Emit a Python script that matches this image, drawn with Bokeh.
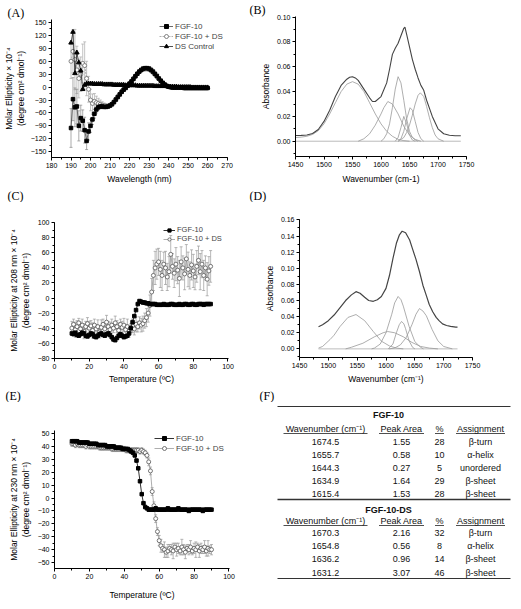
from bokeh.plotting import figure
from bokeh.layouts import row, column
from bokeh.models import (Range1d, SingleIntervalTicker, NumeralTickFormatter, Title,
                          Legend, LegendItem, Whisker, TeeHead, ColumnDataSource)
from bokeh.core.properties import value
from bokeh.embed import file_html
from bokeh.resources import INLINE

FONT = "Liberation Sans"
SERIF = "Liberation Serif"

# ---------------- Panel A: far-UV CD spectra ----------------
WAVELENGTH = list(range(190, 261))
CD_FGF10 = [-95, -28, -47, -45, -90, -72, -78, -100, -125, -103,
            -90, -75, -62, -52, -47, -45, -45, -46, -46, -45,
            -43, -40, -35, -29, -23, -17, -11, -6, -2, 3,
            8, 13, 19, 25, 31, 36, 40, 43, 44, 44,
            43, 40, 36, 31, 26, 20, 15, 10, 6, 3,
            1, 0, -1, -1, -1, -1, -1, -1, -2, -2,
            -2, -2, -2, -2, -2, -2, -2, -2, -2, -2, -2]
CD_FGF10_DS = [60, 83, 64, 40, 20, 30, 55, 50, 20, -5,
               -30, -38, -33, -36, -38, -40, -42, -43, -44, -44,
               -42, -39, -34, -28, -22, -16, -10, -5, -1, 4,
               9, 14, 20, 26, 31, 36, 39, 41, 42, 42,
               41, 38, 34, 29, 24, 19, 14, 9, 5, 2,
               1, 0, -1, -1, -1, -1, -1, -1, -2, -2,
               -2, -2, -2, -2, -2, -2, -2, -2, -2, -2, -2]
CD_DS_CTRL = [103, 128, 32, 80, 57, 38, -5, 5, 8, 8,
              8, 8, 7, 7, 7, 7, 7, 6, 6, 6,
              6, 6, 5, 5, 5, 5, 5, 5, 4, 4,
              4, 4, 4, 4, 3, 3, 3, 3, 3, 3,
              3, 3, 3, 2, 2, 2, 2, 2, 2, 2,
              1, 1, 1, 1, 1, 0, 0, 0, 0, 0,
              0, 0, -1, -1, -1, -1, -1, -1, -1, -1, -1]
ERR_FGF10_A = [45, 50, 45, 40, 35, 30, 25, 30, 20, 20,
               15, 12, 10, 8, 6, 5, 4, 3, 3, 3,
               3, 3, 2, 2, 2, 2, 2, 2, 2, 2,
               2, 2, 2, 2, 2, 2, 2, 2, 2, 2,
               2, 2, 2, 2, 2, 2, 2, 2, 2, 2,
               0, 0, 0, 0, 0, 0, 0, 0, 0, 0,
               0, 0, 0, 0, 0, 0, 0, 0, 0, 0, 0]
ERR_DS_A = [40, 50, 70, 55, 45, 40, 45, 55, 40, 30,
            25, 22, 18, 15, 12, 10, 8, 6, 5, 4,
            3, 3, 3, 2, 2, 2, 2, 2, 2, 2,
            2, 2, 2, 2, 2, 2, 2, 2, 2, 2,
            2, 2, 2, 2, 2, 2, 2, 2, 2, 2,
            0, 0, 0, 0, 0, 0, 0, 0, 0, 0,
            0, 0, 0, 0, 0, 0, 0, 0, 0, 0, 0]

# ---------------- Panel B: FTIR FGF-10 ----------------
B_WN = [1450, 1460, 1470, 1480, 1490, 1500, 1510, 1520, 1530, 1540, 1545, 1550, 1555, 1560,
        1570, 1580, 1585, 1590, 1600, 1610, 1615, 1620, 1625, 1630, 1635, 1640, 1642, 1645,
        1650, 1655, 1660, 1665, 1670, 1675, 1680, 1690, 1700, 1710, 1720, 1730, 1740]
B_ABS = [0.0046, 0.0047, 0.0050, 0.0062, 0.0095, 0.016, 0.025, 0.036, 0.045, 0.050, 0.0515,
         0.052, 0.051, 0.049, 0.042, 0.035, 0.032, 0.032, 0.036, 0.047, 0.058, 0.070, 0.075,
         0.079, 0.085, 0.091, 0.092, 0.086, 0.076, 0.066, 0.058, 0.051, 0.045, 0.041, 0.033,
         0.020, 0.010, 0.0060, 0.0048, 0.0044, 0.0044]
B_BANDS = [
    ([1450, 1460, 1470, 1480, 1490, 1500, 1510, 1520, 1530, 1540, 1550, 1560, 1570, 1580,
      1590, 1600, 1610, 1620, 1630, 1640, 1650],
     [0.0030, 0.0033, 0.0040, 0.0055, 0.0085, 0.014, 0.022, 0.031, 0.040, 0.046, 0.048,
      0.046, 0.040, 0.031, 0.022, 0.014, 0.008, 0.004, 0.0015, 0.0005, 0.0]),
    ([1560, 1570, 1580, 1590, 1600, 1605, 1612, 1620, 1630, 1640, 1650, 1660, 1670],
     [0.000, 0.002, 0.006, 0.013, 0.022, 0.027, 0.032, 0.030, 0.022, 0.012, 0.005, 0.0015, 0.0]),
    ([1600, 1605, 1610, 1615, 1620, 1625, 1630, 1635, 1640, 1645, 1650, 1655, 1660, 1665],
     [0.000, 0.002, 0.006, 0.014, 0.027, 0.042, 0.052, 0.047, 0.033, 0.018, 0.008, 0.003, 0.001, 0.0]),
    ([1625, 1630, 1635, 1640, 1645, 1650, 1655, 1660],
     [0.000, 0.003, 0.011, 0.020, 0.014, 0.005, 0.001, 0.0]),
    ([1630, 1635, 1640, 1645, 1651, 1655, 1660, 1665, 1670, 1675],
     [0.000, 0.002, 0.008, 0.018, 0.027, 0.025, 0.016, 0.007, 0.002, 0.0]),
    ([1630, 1640, 1645, 1650, 1655, 1660, 1665, 1669, 1675, 1680, 1685, 1690, 1695, 1700, 1710],
     [0.000, 0.003, 0.007, 0.013, 0.021, 0.030, 0.037, 0.039, 0.036, 0.028, 0.019, 0.011, 0.005,
      0.002, 0.0]),
]
B_BASE_WN = [1450, 1740]
B_BASE = [0.0, 0.0]

# ---------------- Panel C: thermal melt at 208 nm ----------------
TEMP = list(range(10, 91))
C_FGF10 = [-47, -48, -46, -49, -50, -48, -46, -47, -50, -51,
           -49, -47, -48, -51, -52, -50, -48, -47, -49, -50,
           -48, -47, -49, -52, -55, -56, -53, -50, -48, -50,
           -52, -51, -50, -47, -40, -32, -24, -16, -8, -4,
           -5, -6, -6, -7, -7, -8, -8, -8, -8, -9,
           -9, -9, -9, -8, -9, -9, -9, -8, -8, -9,
           -9, -9, -8, -9, -9, -8, -8, -9, -9, -8,
           -8, -9, -9, -8, -8, -8, -9, -8, -8, -8, -8]
C_FGF10_DS = [-40, -35, -42, -38, -33, -41, -36, -44, -38, -34,
              -40, -37, -43, -36, -41, -38, -45, -39, -35, -41,
              -32, -38, -42, -36, -40, -33, -38, -43, -35, -39,
              -36, -42, -38, -44, -40, -37, -41, -35, -38, -33,
              -36, -34, -30, -26, -20, -10, 8, 30, 40, 45,
              48, 38, 30, 45, 40, 28, 35, 58, 42, 33,
              45, 37, 26, 48, 40, 32, 52, 38, 30, 44,
              36, 28, 42, 50, 35, 45, 30, 40, 25, 36, 42]
C_ERR_DS = [9, 7, 10, 8, 6, 9, 8, 10, 7, 8,
            9, 7, 10, 8, 6, 9, 8, 10, 7, 8,
            9, 7, 10, 8, 6, 9, 8, 10, 7, 8,
            9, 7, 10, 8, 6, 9, 8, 10, 7, 8,
            9, 10, 10, 12, 12, 14, 18, 20, 22, 20,
            18, 24, 20, 16, 22, 18, 20, 25, 17, 19,
            22, 18, 24, 20, 16, 21, 19, 23, 18, 20,
            22, 17, 21, 19, 24, 18, 20, 16, 22, 19, 21]

# ---------------- Panel D: FTIR FGF-10 + DS ----------------
D_WN = [1483, 1490, 1500, 1510, 1520, 1530, 1540, 1548, 1555, 1563, 1570, 1578, 1585, 1592,
        1600, 1606, 1612, 1618, 1623, 1628, 1634, 1641, 1646, 1652, 1658, 1664, 1670, 1675,
        1681, 1687, 1692, 1698, 1705, 1712, 1721, 1724]
D_ABS = [0.0275, 0.030, 0.035, 0.042, 0.051, 0.060, 0.067, 0.071, 0.069, 0.064, 0.060, 0.059,
         0.061, 0.065, 0.075, 0.091, 0.112, 0.131, 0.141, 0.146, 0.144, 0.135, 0.124, 0.111,
         0.096, 0.079, 0.066, 0.055, 0.046, 0.039, 0.035, 0.031, 0.029, 0.028, 0.027, 0.027]
D_BANDS = [
    ([1483, 1490, 1503, 1510, 1520, 1534, 1548, 1563, 1578, 1592, 1606, 1618, 1630],
     [0.001, 0.003, 0.0116, 0.017, 0.0275, 0.039, 0.0426, 0.035, 0.0215, 0.0096, 0.0036, 0.001, 0.0]),
    ([1530, 1540, 1560, 1580, 1595, 1603, 1615, 1630, 1645, 1660, 1675, 1690],
     [0.000, 0.002, 0.007, 0.015, 0.020, 0.0215, 0.020, 0.015, 0.008, 0.003, 0.001, 0.0]),
    ([1575, 1580, 1590, 1600, 1610, 1615, 1621, 1626, 1630, 1640, 1650, 1660, 1665],
     [0.000, 0.001, 0.006, 0.020, 0.043, 0.057, 0.065, 0.061, 0.053, 0.028, 0.009, 0.002, 0.0]),
    ([1604, 1612, 1618, 1623, 1627, 1631, 1634, 1640, 1646, 1650],
     [0.000, 0.006, 0.020, 0.030, 0.034, 0.031, 0.025, 0.010, 0.002, 0.0]),
    ([1605, 1615, 1625, 1635, 1645, 1652, 1658, 1664, 1670, 1680, 1690, 1700, 1715],
     [0.000, 0.001, 0.005, 0.014, 0.030, 0.043, 0.050, 0.047, 0.041, 0.024, 0.010, 0.003, 0.0]),
]
D_BASE_WN = [1483, 1724]
D_BASE = [0.0, 0.0]

# ---------------- Panel E: thermal melt at 230 nm ----------------
E_FGF10 = [44, 44, 44, 44, 43, 43, 43, 43, 43, 43,
           42, 42, 42, 42, 42, 41, 41, 41, 41, 41,
           40, 40, 40, 40, 40, 39, 39, 39, 39, 38,
           38, 38, 38, 37, 36, 35, 33, 29, 23, 13,
           3, -4, -7, -8, -9, -9, -9, -9, -8, -9,
           -9, -9, -9, -9, -9, -8, -9, -9, -9, -9,
           -9, -8, -9, -9, -9, -9, -9, -10, -9, -9,
           -9, -9, -9, -9, -9, -10, -9, -9, -9, -9, -9]
E_FGF10_DS = [42, 42, 41, 42, 41, 41, 41, 41, 40, 41,
              40, 40, 40, 40, 40, 40, 39, 39, 39, 39,
              39, 39, 39, 38, 38, 38, 38, 38, 38, 38,
              38, 37, 37, 37, 37, 37, 37, 37, 37, 36,
              37, 36, 35, 33, 28, 21, 5, -6, -16, -26,
              -33, -37, -39, -40, -42, -41, -39, -40, -41, -38,
              -40, -39, -41, -38, -40, -42, -39, -40, -38, -41,
              -39, -40, -38, -41, -39, -40, -38, -41, -39, -40, -40]
E_ERR_DS = [2, 2, 2, 2, 2, 2, 2, 2, 2, 2,
            2, 2, 2, 2, 2, 2, 2, 2, 2, 2,
            2, 2, 2, 2, 2, 2, 2, 2, 2, 2,
            2, 2, 2, 2, 2, 2, 2, 2, 2, 2,
            2, 2, 2, 2, 3, 3, 3, 3, 3, 3,
            4, 5, 3, 6, 4, 5, 3, 4, 6, 3,
            5, 4, 3, 6, 4, 5, 3, 4, 5, 3,
            4, 6, 3, 5, 4, 3, 5, 4, 6, 3, 4]

# ---------------- Panel F: table ----------------
TABLE_HEADERS = ["Wavenumber (cm\u207b\u00b9)", "Peak Area", "%", "Assignment"]
T1_TITLE = "FGF-10"
T1_WN = ["1674.5", "1655.7", "1644.3", "1634.9", "1615.4"]
T1_AREA = ["1.55", "0.58", "0.27", "1.64", "1.53"]
T1_PCT = ["28", "10", "5", "29", "28"]
T1_ASSIGN = ["\u03b2-turn", "\u03b1-helix", "unordered", "\u03b2-sheet", "\u03b2-sheet"]
T2_TITLE = "FGF-10-DS"
T2_WN = ["1670.3", "1654.8", "1636.2", "1631.2"]
T2_AREA = ["2.16", "0.56", "0.96", "3.07"]
T2_PCT = ["32", "8", "14", "46"]
T2_ASSIGN = ["\u03b2-turn", "\u03b1-helix", "\u03b2-sheet", "\u03b2-sheet"]


def base_fig(w, h, xr, yr, borders, xint, yint, yfmt=None):
    l, r, t, b = borders
    p = figure(width=w, height=h, x_range=Range1d(*xr), y_range=Range1d(*yr),
               output_backend="svg", toolbar_location=None, frame_align=False,
               min_border_left=l, min_border_right=r, min_border_top=t, min_border_bottom=b)
    p.grid.visible = False
    p.outline_line_color = None
    p.xaxis.ticker = SingleIntervalTicker(interval=xint, num_minor_ticks=2)
    p.yaxis.ticker = SingleIntervalTicker(interval=yint, num_minor_ticks=2)
    if yfmt:
        p.yaxis.formatter = NumeralTickFormatter(format=yfmt)
    for ax in p.axis:
        ax.axis_line_color = "black"
        ax.major_tick_line_color = "black"
        ax.minor_tick_line_color = "black"
        ax.major_tick_out = 3
        ax.major_tick_in = 0
        ax.minor_tick_out = 2
        ax.minor_tick_in = 0
        ax.major_label_text_font = FONT
        ax.major_label_text_font_size = "7px"
        ax.major_label_text_color = "black"
        ax.major_label_standoff = 2
        ax.axis_label_text_font = FONT
        ax.axis_label_text_font_size = "8.5px"
        ax.axis_label_text_font_style = "normal"
        ax.axis_label_text_color = "black"
    return p


def top_title(p, txt, offset):
    p.title.text = txt
    p.title.align = "left"
    p.title.offset = offset
    p.title.standoff = 0
    p.title.text_font = SERIF
    p.title.text_font_size = "12px"
    p.title.text_font_style = "normal"
    p.title.text_color = "black"


def bottom_title(p, txt, offset):
    p.add_layout(Title(text=txt, align="left", offset=offset, standoff=0, text_font=SERIF,
                       text_font_size="12px", text_font_style="normal", text_color="black"),
                 "below")


def add_legend(p, items, loc, gw, gh, fs):
    leg = Legend(items=items, location=loc, glyph_width=gw, glyph_height=gh, label_height=gh,
                 spacing=0, padding=0, margin=0, label_text_font=FONT, label_text_font_size=fs,
                 label_text_line_height=1.0, label_standoff=2, background_fill_alpha=0,
                 border_line_color=None)
    p.add_layout(leg)


def errbars(p, xs, ys, errs, minerr, color, head):
    sel = [(x, y, e) for x, y, e in zip(xs, ys, errs) if e >= minerr]
    src = ColumnDataSource(dict(x=[s[0] for s in sel], lower=[s[1] - s[2] for s in sel],
                                upper=[s[1] + s[2] for s in sel]))
    p.add_layout(Whisker(source=src, base="x", lower="lower", upper="upper",
                         line_color=color, line_width=0.7,
                         upper_head=TeeHead(size=head, line_color=color, line_width=0.7),
                         lower_head=TeeHead(size=head, line_color=color, line_width=0.7)))


# ---- A ----  (245 x 202), page y 0..202
pa = base_fig(245, 202, (180, 270.2), (-163.5, 157), (49, 18, 19, 41), 10, 30)
pa.xaxis.axis_label = "Wavelength (nm)"
pa.yaxis.axis_label = "Molar Ellipticity \u00d7 10\u207b\u2074\n(degree cm\u00b2 dmol\u207b\u00b9)"
pa.xaxis.axis_label_standoff = 3
pa.yaxis.axis_label_standoff = 2
top_title(pa, "(A)", -44)
bottom_title(pa, "(C)", -44)
errbars(pa, WAVELENGTH, CD_FGF10_DS, ERR_DS_A, 3, "#aaaaaa", 3)
errbars(pa, WAVELENGTH, CD_FGF10, ERR_FGF10_A, 3, "#888888", 3)
la1 = pa.line(WAVELENGTH, CD_FGF10_DS, line_color="#999999", line_width=0.8, line_dash="2 1")
sa1 = pa.scatter(WAVELENGTH, CD_FGF10_DS, marker="circle", size=4, fill_color="white",
                 line_color="#666666", line_width=0.8)
la0 = pa.line(WAVELENGTH, CD_FGF10, line_color="#444444", line_width=0.8)
sa0 = pa.scatter(WAVELENGTH, CD_FGF10, marker="square", size=3.5, color="black")
la2 = pa.line(WAVELENGTH, CD_DS_CTRL, line_color="#222222", line_width=0.8)
sa2 = pa.scatter(WAVELENGTH, CD_DS_CTRL, marker="triangle", size=4.5, color="black")
add_legend(pa, [LegendItem(label="FGF-10", renderers=[la0, sa0]),
                LegendItem(label="FGF-10 + DS", renderers=[la1, sa1]),
                LegendItem(label="DS Control", renderers=[la2, sa2])],
           (108, 106), 14, 10, "8px")

# ---- B ----  (275 x 202)
pb = base_fig(275, 202, (1450, 1750), (-0.0123, 0.1005), (50, 54, 16, 40), 50, 0.02, "0.00")
pb.xaxis.axis_label = "Wavenumber (cm-1)"
pb.yaxis.axis_label = "Absorbance"
pb.xaxis.axis_label_standoff = 4
pb.yaxis.axis_label_standoff = 3
top_title(pb, "(B)", -46)
bottom_title(pb, "(D)", -46)
pb.line(B_BASE_WN, B_BASE, line_color="#aaaaaa", line_width=0.8)
for bx, by in B_BANDS:
    pb.line(bx, by, line_color="#999999", line_width=0.8)
pb.line(B_WN, B_ABS, line_color="#444444", line_width=1.1)

# ---- C ----  (245 x 200), page y 202..402
pc = base_fig(245, 200, (0, 100.3), (-80.3, 100.3), (54, 17, 20, 39), 20, 20)
pc.xaxis.axis_label = "Temperature (\u00baC)"
pc.yaxis.axis_label = "Molar Ellipticity at 208 nm \u00d7 10\u207b\u2074\n(degree cm\u00b2 dmol\u207b\u00b9)"
pc.xaxis.axis_label_standoff = 2
pc.yaxis.axis_label_standoff = 4
bottom_title(pc, "(E)", -49)
errbars(pc, TEMP, C_FGF10_DS, C_ERR_DS, 1, "#999999", 3)
lc1 = pc.line(TEMP, C_FGF10_DS, line_color="#999999", line_width=0.8)
sc1 = pc.scatter(TEMP, C_FGF10_DS, marker="circle", size=4, fill_color="white",
                 line_color="#555555", line_width=0.8)
lc0 = pc.line(TEMP, C_FGF10, line_color="#333333", line_width=1)
sc0 = pc.scatter(TEMP, C_FGF10, marker="square", size=3.5, color="black")
add_legend(pc, [LegendItem(label="FGF-10", renderers=[lc0, sc0]),
                LegendItem(label="FGF-10 + DS", renderers=[lc1, sc1])],
           (109, 115), 12, 8, "7.5px")

# ---- D ----  (275 x 200)
pd_ = base_fig(275, 200, (1450, 1750), (-0.0107, 0.1605), (54, 48, 17, 40), 50, 0.02, "0.00")
pd_.xaxis.axis_label = "Wavenumber (cm\u207b\u00b9)"
pd_.yaxis.axis_label = "Absorbance"
pd_.xaxis.axis_label_standoff = 3
pd_.yaxis.axis_label_standoff = 3
bottom_title(pd_, "(F)", -40)
pd_.line(D_BASE_WN, D_BASE, line_color="#aaaaaa", line_width=0.8)
for bx, by in D_BANDS:
    pd_.line(bx, by, line_color="#999999", line_width=0.8)
pd_.line(D_WN, D_ABS, line_color="#444444", line_width=1.2)

# ---- E ----  (245 x 206), page y 402..608
pe = base_fig(245, 206, (0, 100.3), (-54.6, 52.3), (54, 16, 28, 40), 20, 10)
pe.xaxis.axis_label = "Temperature (\u00baC)"
pe.yaxis.axis_label = "Molar Ellipticity at 230 nm \u00d7 10\u207b\u2074\n(degree cm\u00b2 dmol\u207b\u00b9)"
pe.xaxis.axis_label_standoff = 8
pe.yaxis.axis_label_standoff = 4
errbars(pe, TEMP, E_FGF10_DS, E_ERR_DS, 1, "#999999", 3)
le1 = pe.line(TEMP, E_FGF10_DS, line_color="#999999", line_width=0.8)
se1 = pe.scatter(TEMP, E_FGF10_DS, marker="circle", size=4, fill_color="white",
                 line_color="#555555", line_width=0.8)
le0 = pe.line(TEMP, E_FGF10, line_color="#333333", line_width=1)
se0 = pe.scatter(TEMP, E_FGF10, marker="square", size=3.5, color="black")
add_legend(pe, [LegendItem(label="FGF-10", renderers=[le0, se0]),
                LegendItem(label="FGF-10 + DS", renderers=[le1, se1])],
           (100, 115), 20, 10, "8px")

# ---- F (table) ----  (275 x 206)
pf = figure(width=275, height=206, x_range=Range1d(0, 275), y_range=Range1d(206, 0),
            output_backend="svg", toolbar_location=None, x_axis_location=None,
            y_axis_location=None, min_border=0, frame_align=False)
pf.grid.visible = False
pf.outline_line_color = None
COLX = [80, 156, 194, 235]
ULW = [84, 45, 9, 49]


def table_block(title, y_title, y_head, y_rows, cols):
    pf.text(x=[143], y=[y_title], text=[title], text_align="center", text_baseline="middle",
            text_font=value(FONT), text_font_size="9px", text_font_style="bold", text_color="#111111")
    pf.text(x=COLX, y=[y_head] * 4, text=TABLE_HEADERS, text_align="center", text_baseline="middle",
            text_font=value(FONT), text_font_size="9px", text_color="#111111")
    pf.segment(x0=[c - w / 2 for c, w in zip(COLX, ULW)], y0=[y_head + 5] * 4,
               x1=[c + w / 2 for c, w in zip(COLX, ULW)], y1=[y_head + 5] * 4,
               line_color="#222222", line_width=0.8)
    for ci, col in enumerate(cols):
        pf.text(x=[COLX[ci]] * len(col), y=y_rows, text=col, text_align="center",
                text_baseline="middle", text_font=value(FONT), text_font_size="9px",
                text_color="#111111")


table_block(T1_TITLE, 12, 26, [39 + 13 * i for i in range(len(T1_WN))],
            [T1_WN, T1_AREA, T1_PCT, T1_ASSIGN])
table_block(T2_TITLE, 107, 118, [130.5 + 13.2 * i for i in range(len(T2_WN))],
            [T2_WN, T2_AREA, T2_PCT, T2_ASSIGN])
pf.segment(x0=[32, 32, 32], y0=[4, 97, 176], x1=[265, 265, 265], y1=[4, 97, 176],
           line_color="#333333", line_width=[1, 1.6, 1])

layout = column(row(pa, pb), row(pc, pd_), row(pe, pf))
open("out.html", "w").write(file_html(layout, INLINE))
